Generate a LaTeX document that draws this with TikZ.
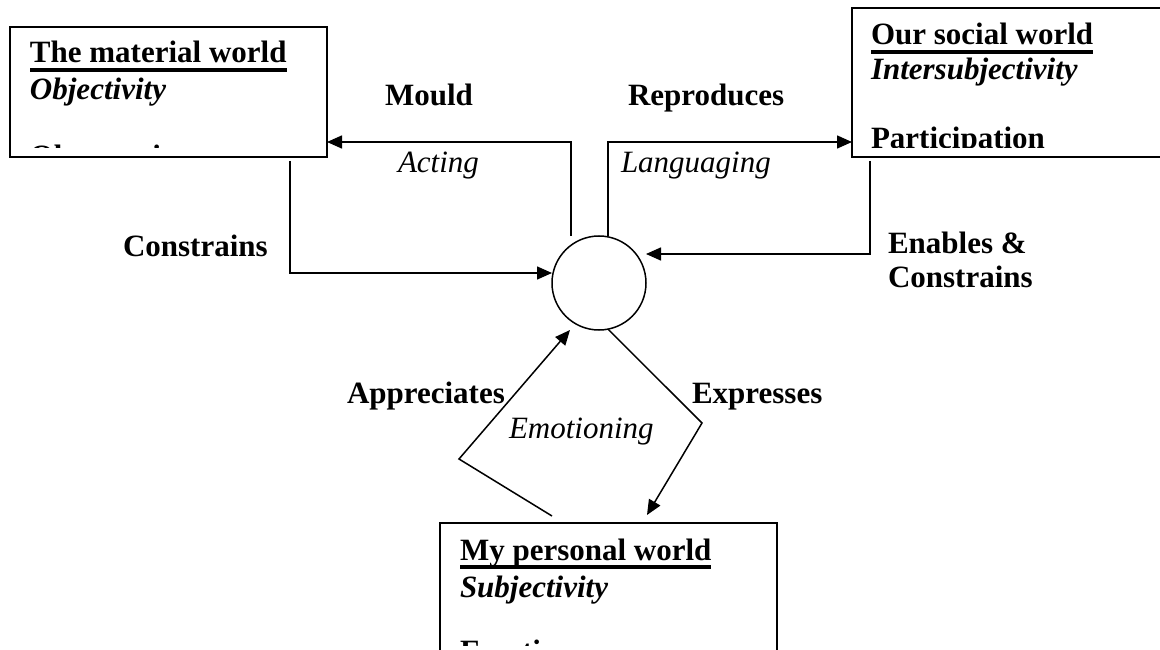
\documentclass[tikz,border=0pt]{standalone}
\usepackage{fontspec}
\setmainfont{Liberation Serif}
\usetikzlibrary{arrows.meta,calc}

\begin{document}
\begin{tikzpicture}[x=1pt,y=-1pt,
  every node/.style={inner sep=0pt, outer sep=0pt},
  box/.style={draw, line width=1.8pt, anchor=north west},
  link/.style={line width=1.5pt},
  arr/.style={link, -{Triangle[length=15pt,width=13pt]}},
  lbl/.style={anchor=base west, font=\fontsize{31}{36}\selectfont\bfseries},
  act/.style={anchor=base west, font=\fontsize{31}{36}\selectfont\itshape},
  ttl/.style={anchor=base west, font=\fontsize{31}{36}\selectfont\bfseries},
  sub/.style={anchor=base west, font=\fontsize{31}{36}\selectfont\bfseries\itshape},
  uline/.style={line width=3.2pt}]

\useasboundingbox (0,0) rectangle (1160,650);
\clip (0,0) rectangle (1160,650);

% the three worlds
\node[box, minimum width=317pt, minimum height=130pt] (mat) at (10,27) {};
\node[box, minimum width=330pt, minimum height=149pt] (soc) at (852,8) {};
\node[box, minimum width=337pt, minimum height=132pt] (per) at (440,523) {};

% box texts, cut off by the inner margin of each box
\begin{scope}
  \clip (mat.north west) rectangle ($(mat.south east)+(0,-9)$);
  \node[ttl] (matT) at (30,63) {The material world};
  \node[sub] (matS) at (30,100) {Objectivity};
  \node[ttl] (matM) at (30,167) {Observation};
\end{scope}
\begin{scope}
  \clip (soc.north west) rectangle ($(soc.south east)+(0,-9.5)$);
  \node[ttl] (socT) at (871,45) {Our social world};
  \node[sub] (socS) at (871,80) {Intersubjectivity};
  \node[ttl] (socM) at (871,148.8) {Participation};
\end{scope}
\begin{scope}
  \clip (per.north west) rectangle ($(per.south east)+(0,-9.5)$);
  \node[ttl] (perT) at (460,560) {My personal world};
  \node[sub] (perS) at (460,597) {Subjectivity};
  \node[ttl] (perM) at (460,661) {Emotion};
\end{scope}
\foreach \t in {matT,socT,perT}
  \draw[uline] ($(\t.base west)+(0,7)$) -- ($(\t.base east)+(0,7)$);

% the self
\node[draw, circle, line width=1.5pt, minimum size=94pt] (c) at (599,283) {};

% bend points
\coordinate (mo) at (571,142);
\coordinate (la) at (608,142);
\coordinate (co) at (290,273);
\coordinate (en) at (870,254);
\coordinate (ap) at (459,459);
\coordinate (ex) at (702,423);

% connectors
\draw[arr] (c.north -| mo) -- (mo) -- (mo -| mat.east);
\draw[arr] (c.north -| la) -- (la) -- (la -| soc.west);
\draw[arr] ($(mat.south -| co)+(0,4)$) -- (co) -- (co -| c.west);
\draw[arr] ($(soc.south -| en)+(0,4)$) -- (en) -- (en -| c.east);
\draw[arr] ($(per.north west)+(112,-7)$) -- (ap) -- ($(c.south)+(-29,0)$);
\draw[arr] (c.-79) -- (ex) -- ($(per.north west)+(207,-8)$);

% labels
\node[lbl] (mould) at (385,106) {Mould};
\node[lbl] (repr) at (628,106) {Reproduces};
\node[act] (acting) at (398,172) {Acting};
\node[act] (lang) at (621,172) {Languaging};
\node[lbl] (cons) at (123,256) {Constrains};
\node[lbl] (enab) at (888,253) {Enables \&};
\node[lbl] (enab2) at (888,287) {Constrains};
\node[lbl] (appr) at (347,403) {Appreciates};
\node[lbl] (expr) at (692,403) {Expresses};
\node[act] (emot) at (509,438) {Emotioning};
\end{tikzpicture}
\end{document}
